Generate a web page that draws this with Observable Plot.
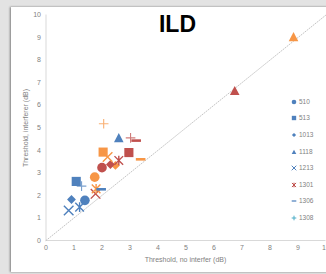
<!DOCTYPE html>
<html><head><meta charset="utf-8">
<script src="https://cdn.jsdelivr.net/npm/d3@7"></script>
<script src="https://cdn.jsdelivr.net/npm/@observablehq/plot@0.6"></script>
<style>
body{margin:0;background:#e3e3e3;}
#wrap{position:relative;width:326px;height:274px;background:#e3e3e3;overflow:hidden;font-family:"Liberation Sans",Arial,sans-serif;}
#card{position:absolute;left:11px;top:7px;width:330px;height:265px;background:#fff;box-shadow:-1px 0 2px rgba(0,0,0,0.45);}
#chart{position:absolute;left:0;top:0;}
.t{position:absolute;color:#7f7f7f;font-size:7px;line-height:8px;white-space:nowrap;text-align:center;}
#title{position:absolute;left:127.5px;top:13px;width:100px;text-align:center;font-size:23px;line-height:23px;font-weight:bold;color:#000;}
.lg{position:absolute;left:290px;height:8px;font-size:6.5px;line-height:8px;color:#7f7f7f;white-space:nowrap;}
.lg svg{position:absolute;left:0;top:0;}
.lg span{position:absolute;left:9px;top:0;}
</style></head><body>
<div id="wrap">
  <div id="card"></div>
  <div id="chart"></div>
  <div id="title">ILD</div>
  <div class="t" style="left:105.5px;top:256px;width:160px;">Threshold, no interfer (dB)</div>
  <div class="t" style="left:-54.5px;top:124px;width:160px;transform:rotate(-90deg);">Threshold, interferer (dB)</div>
  <div id="legend"></div>
</div>
<script>
const series  = ["510","513","1013","1118","1213","1301","1306","1308"];
const blueX   = [1.39,1.08,0.91,2.60,0.81,1.20,1.97,1.27];
const blueY   = [1.78,2.62,1.82,4.55,1.33,1.48,2.27,2.41];
const orangeX = [1.74,2.04,2.48,8.84,2.20,1.79,3.38,2.06];
const orangeY = [2.81,3.92,3.33,9.03,3.70,2.29,3.60,5.18];
const redX    = [2.00,2.96,2.30,6.74,1.77,2.60,3.22,3.02];
const redY    = [3.23,3.90,3.37,6.64,2.07,3.55,4.43,4.55];
const xTicks  = [0,1,2,3,4,5,6,7,8,9,10];
const yTicks  = [0,1,2,3,4,5,6,7,8,9,10];
const diagX   = [0,10];
const diagY   = [0,10];
const condColors   = ["#4F81BD","#F79646","#C0504D"];
const legendColors = ["#4F81BD","#4F81BD","#4F81BD","#4F81BD","#4F81BD","#C0504D","#4F81BD","#4BACC6"];
const symbolNames  = ["circle","square","diamond","triangle","times","star","dash","plus"];

function sym(fn){return {draw(c,size){fn(c,Math.sqrt(size/Math.PI));}};}
const symbols = {
  circle: sym((c,r)=>{c.moveTo(r,0);c.arc(0,0,r,0,2*Math.PI);}),
  square: sym((c,r)=>{const s=r*0.95;c.rect(-s,-s,2*s,2*s);}),
  diamond: sym((c,r)=>{const s=r*0.92;c.moveTo(0,-s);c.lineTo(s,0);c.lineTo(0,s);c.lineTo(-s,0);c.closePath();}),
  triangle: sym((c,r)=>{c.moveTo(0,-r);c.lineTo(r,r*0.9);c.lineTo(-r,r*0.9);c.closePath();}),
  times: sym((c,r)=>{c.moveTo(-r,-r);c.lineTo(r,r);c.moveTo(r,-r);c.lineTo(-r,r);}),
  star: sym((c,r)=>{const s=r*0.9;c.moveTo(-s,-s);c.lineTo(s,s);c.moveTo(s,-s);c.lineTo(-s,s);c.moveTo(0,-r);c.lineTo(0,r);}),
  dash: sym((c,r)=>{c.rect(-r,-0.27*r,2*r,0.54*r);}),
  plus: sym((c,r)=>{c.moveTo(-r,0);c.lineTo(r,0);c.moveTo(0,-r);c.lineTo(0,r);})
};
const strokeSyms = new Set(["times","star","plus"]);

const points = [];
series.forEach((s,i)=>{
  [[blueX,blueY],[orangeX,orangeY],[redX,redY]].forEach(([xs,ys],k)=>{
    if (xs[i]!=null) points.push({series:s, x:xs[i], y:ys[i], color:condColors[k]});
  });
});
const diag = diagX.map((x,i)=>({x, y:diagY[i]}));

const marks = [
  Plot.ruleX([0], {stroke:"#d9d9d9", strokeWidth:1}),
  Plot.ruleY([0], {stroke:"#d9d9d9", strokeWidth:1}),
  Plot.line(diag, {x:"x", y:"y", stroke:"#bdbdbd", strokeWidth:0.9, strokeDasharray:"1,1.6"}),
  Plot.axisX(xTicks, {tickSize:0, tickPadding:5, fontSize:7, label:null}),
  Plot.axisY(yTicks, {tickSize:0, tickPadding:5, fontSize:7, label:null})
];
series.forEach((s,i)=>{
  const name = symbolNames[i];
  const data = points.filter(d=>d.series===s);
  if (strokeSyms.has(name)) {
    marks.push(Plot.dot(data, {x:"x", y:"y", r:4.8, symbol:symbols[name], fill:"none", stroke:"color", strokeWidth:name==="plus"?1.1:1.4, strokeOpacity:name==="plus"?0.75:1}));
  } else {
    marks.push(Plot.dot(data, {x:"x", y:"y", r:4.8, symbol:symbols[name], fill:"color", stroke:"none"}));
  }
});

const chart = Plot.plot({
  width:326, height:274,
  marginLeft:45.5, marginRight:0.5, marginTop:14.5, marginBottom:34,
  x:{domain:[0,10]}, y:{domain:[0,10]},
  color:{type:"identity"},
  style:{background:"transparent", color:"#7f7f7f", fontFamily:"'Liberation Sans',Arial,sans-serif", overflow:"visible"},
  marks
});
document.getElementById("chart").appendChild(chart);

const lg = d3.select("#legend");
series.forEach((s,i)=>{
  const name = symbolNames[i];
  const row = lg.append("div").attr("class","lg").style("top",(97.7+i*16.6)+"px");
  const svg = row.append("svg").attr("width",8).attr("height",8);
  const p = d3.symbol().type(symbols[name]).size(Math.PI*2.3*2.3)();
  const path = svg.append("path").attr("transform","translate(4,4)").attr("d",p);
  if (strokeSyms.has(name)) path.attr("fill","none").attr("stroke",legendColors[i]).attr("stroke-width",1);
  else path.attr("fill",legendColors[i]);
  row.append("span").text(s);
});
</script>
</body></html>
